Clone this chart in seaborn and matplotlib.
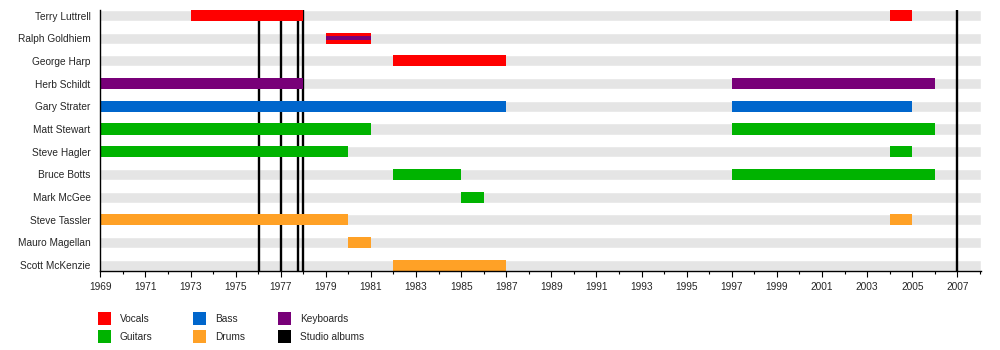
import matplotlib
matplotlib.use("Agg")
import matplotlib.pyplot as plt
from matplotlib.patches import Rectangle
from matplotlib.ticker import MultipleLocator, FixedLocator
import seaborn as sns

# Band members, top to bottom
members = ["Terry Luttrell", "Ralph Goldhiem", "George Harp", "Herb Schildt",
           "Gary Strater", "Matt Stewart", "Steve Hagler", "Bruce Botts",
           "Mark McGee", "Steve Tassler", "Mauro Magellan", "Scott McKenzie"]

# Membership spans: who, role, start, end
span_member = ["Terry Luttrell", "Terry Luttrell", "Ralph Goldhiem", "George Harp",
               "Herb Schildt", "Herb Schildt", "Gary Strater", "Gary Strater",
               "Matt Stewart", "Matt Stewart", "Steve Hagler", "Steve Hagler",
               "Bruce Botts", "Bruce Botts", "Mark McGee",
               "Steve Tassler", "Steve Tassler", "Mauro Magellan", "Scott McKenzie"]
span_role = ["Vocals", "Vocals", "Vocals", "Vocals",
             "Keyboards", "Keyboards", "Bass", "Bass",
             "Guitars", "Guitars", "Guitars", "Guitars",
             "Guitars", "Guitars", "Guitars",
             "Drums", "Drums", "Drums", "Drums"]
span_start = [1973, 2004, 1979, 1982, 1969, 1997, 1969, 1997, 1969, 1997,
              1969, 2004, 1982, 1997, 1985, 1969, 2004, 1980, 1982]
span_end = [1978, 2005, 1981, 1987, 1978, 2006, 1987, 2005, 1981, 2006,
            1980, 2005, 1985, 2006, 1986, 1980, 2005, 1981, 1987]

# Secondary role shown as a thin stripe inside a bar
stripe_member = ["Ralph Goldhiem"]
stripe_role = ["Keyboards"]
stripe_start = [1979]
stripe_end = [1981]

# Studio album releases
album_years = [1976.05, 1977.0, 1977.75, 1978.0, 2007.0]

timeline_start = 1969
timeline_end = 2008.05

role_colors = {"Vocals": "#FF0000", "Guitars": "#00B300", "Bass": "#0066CC",
               "Drums": "#FFA126", "Keyboards": "#780078",
               "Studio albums": "#000000"}
legend_order = ["Vocals", "Bass", "Keyboards", "Guitars", "Drums", "Studio albums"]

sns.set_style("ticks")
plt.rcParams["font.family"] = ["Liberation Sans", "DejaVu Sans"]
plt.rcParams["font.size"] = 7.3

W, H = 1000, 350
fig = plt.figure(figsize=(W / 100, H / 100), dpi=100)
ax = fig.add_axes([100.3 / W, 1 - 270.7 / H, 880.7 / W, 260.7 / H])

bar_h = 0.485
row = {m: i for i, m in enumerate(members)}

# Light grey lane behind every member
sns.barplot(x=[timeline_end] * len(members), y=members, orient="h",
            color="#E5E5E5", saturation=1, width=bar_h, ax=ax, zorder=1)

# Album markers
ax.vlines(album_years, -bar_h / 2, len(members) - 1 + bar_h / 2,
          colors="black", linewidth=1.7, zorder=2)

# Membership bars
for m, r, s, e in zip(span_member, span_role, span_start, span_end):
    ax.barh(row[m], e - s, left=s, height=bar_h, color=role_colors[r],
            linewidth=0, zorder=3)
for m, r, s, e in zip(stripe_member, stripe_role, stripe_start, stripe_end):
    ax.barh(row[m], e - s, left=s, height=bar_h / 3, color=role_colors[r],
            linewidth=0, zorder=4)

ax.set_xlim(timeline_start, timeline_end)
ax.set_ylim(len(members) - 1 + bar_h / 2, -bar_h / 2)
ax.set_xlabel("")
ax.set_ylabel("")

ax.xaxis.set_major_locator(FixedLocator(list(range(1969, 2008, 2))))
ax.xaxis.set_minor_locator(MultipleLocator(1))
ax.tick_params(axis="x", which="major", length=4.5, width=0.8, pad=3.5,
               labelsize=7.3, color="black")
ax.tick_params(axis="x", which="minor", length=2.5, width=0.8, color="black")
ax.tick_params(axis="y", length=0, pad=7, labelsize=7.3)

for side in ("top", "right"):
    ax.spines[side].set_visible(False)
for side in ("left", "bottom"):
    ax.spines[side].set_linewidth(1.0)
    ax.spines[side].set_color("black")
    ax.spines[side].set_zorder(5)

# Legend laid out as a 3 x 2 grid of swatches
col_x = [98, 193, 278]
row_y = [312, 330]
sw = 12.5
for i, role in enumerate(legend_order):
    cx = col_x[i % 3]
    cy = row_y[i // 3]
    fig.add_artist(Rectangle((cx / W, 1 - (cy + sw) / H), sw / W, sw / H,
                             transform=fig.transFigure,
                             color=role_colors[role], linewidth=0))
    fig.text((cx + 22) / W, 1 - (cy + sw / 2 + 1) / H, role,
             ha="left", va="center", fontsize=7.3)

fig.savefig("out.png", dpi=100)
